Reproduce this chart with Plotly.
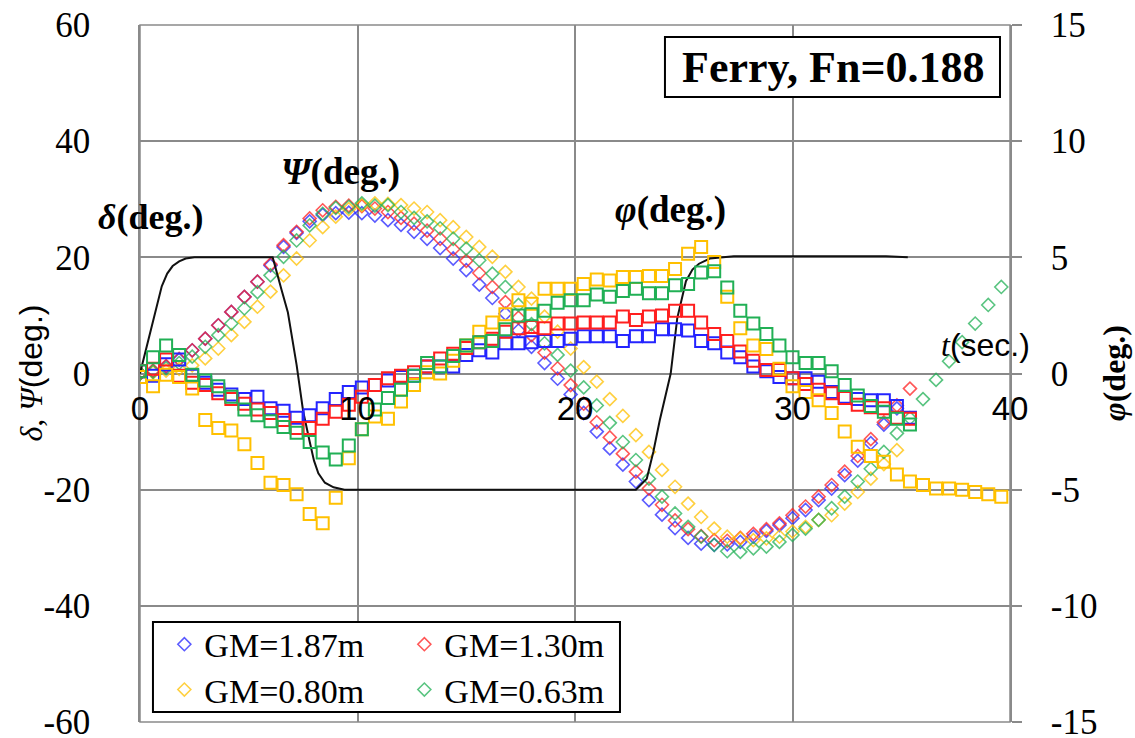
import plotly.graph_objects as go

# ---------------- data ----------------
T = [0.0, 0.6, 1.2, 1.8, 2.4, 3.0, 3.6, 4.2, 4.8, 5.4,
     6.0, 6.6, 7.2, 7.8, 8.4, 9.0, 9.6, 10.2, 10.8, 11.4,
     12.0, 12.6, 13.2, 13.8, 14.4, 15.0, 15.6, 16.2, 16.8, 17.4,
     18.0, 18.6, 19.2, 19.8, 20.4, 21.0, 21.6, 22.2, 22.8, 23.4,
     24.0, 24.6, 25.2, 25.8, 26.4, 27.0, 27.6, 28.2, 28.8, 29.4,
     30.0, 30.6, 31.2, 31.8, 32.4, 33.0, 33.6, 34.2, 34.8, 35.4,
     36.0, 36.6, 37.2, 37.8, 38.4, 39.0, 39.6]

LABELS = ["GM=1.87m", "GM=1.30m", "GM=0.80m", "GM=0.63m"]
COLORS = ["#2424ff", "#ff1f1f", "#ffc000", "#21b055"]

# yaw angle Psi (deg) - diamonds, left axis
PSI_187 = [0, 0.4, 1.2, 2.4, 4.0, 6.0, 8.3, 10.6, 13.2, 15.8,
           18.6, 21.8, 24.2, 26.2, 27.3, 27.6, 27.7, 27.6, 27.2, 26.4,
           25.6, 24.4, 23.2, 21.6, 19.8, 17.8, 15.3, 13.0, 10.3, 7.4,
           4.6, 1.8, -0.9, -3.6, -6.8, -10.0, -12.9, -15.7, -18.6, -21.8,
           -24.3, -26.6, -28.3, -29.3, -29.5, -29.4, -29.0, -28.1, -27.1, -26.1,
           -24.9, -23.5, -21.8, -19.8, -17.5, -15.0, -12.0, -8.8, -6.0]
PSI_130 = [0, 0.5, 1.3, 2.5, 4.0, 6.0, 8.3, 10.6, 13.2, 15.8,
           18.8, 22.1, 24.4, 26.7, 28.1, 28.7, 28.9, 28.8, 28.4, 27.8,
           26.8, 25.8, 24.6, 23.2, 21.4, 19.4, 17.3, 14.9, 12.3, 9.6,
           6.6, 3.6, 0.9, -2.0, -5.2, -8.4, -11.0, -13.8, -16.9, -19.8,
           -22.6, -25.3, -26.8, -28.0, -28.7, -28.8, -28.3, -27.6, -26.8, -25.8,
           -24.4, -22.9, -21.2, -19.2, -16.9, -14.2, -11.3, -8.4, -5.5, -2.6]
PSI_080 = [0, 0.2, 0.5, 0.8, 1.4, 2.6, 4.3, 6.6, 8.9, 11.5,
           14.1, 16.9, 19.8, 22.9, 25.2, 27.0, 28.3, 29.0, 29.3, 29.2,
           29.0, 28.4, 27.8, 26.4, 25.2, 23.5, 21.8, 20.1, 17.5, 14.9,
           12.9, 9.8, 7.2, 4.3, 1.1, -1.4, -4.4, -7.3, -10.6, -13.5,
           -16.6, -19.5, -22.4, -24.7, -26.7, -28.1, -28.4, -28.7, -28.4, -28.1,
           -27.2, -26.4, -25.2, -24.4, -22.4, -20.4, -18.1, -15.6, -13.2]
PSI_063 = [0, 0.3, 0.9, 1.8, 2.9, 4.6, 6.6, 8.6, 11.2, 14.0,
           16.9, 20.1, 22.9, 25.5, 27.5, 28.5, 28.7, 29.3, 28.9, 29.0,
           27.8, 26.8, 26.2, 25.0, 23.2, 21.5, 19.5, 17.2, 14.9, 11.8,
           8.5, 5.2, 3.2, 0.5, -2.4, -5.5, -8.5, -11.8, -14.9, -18.1,
           -21.2, -24.1, -26.4, -28.1, -29.5, -30.6, -30.7, -30.1, -29.8, -29.0,
           -27.8, -26.7, -25.2, -23.2, -21.2, -18.6, -16.4, -13.5, -10.3, -7.7,
           -4.4, -1.1, 2.1, 5.4, 8.6, 11.8, 14.9]

# roll angle phi (deg) - squares, right axis
PHI_187 = [0.1, -0.1, 0.4, 0.6, -0.1, -0.4, -0.7, -0.9, -1.1, -1.0,
           -1.5, -1.6, -1.9, -1.8, -1.5, -1.1, -0.8, -0.6, -0.5, -0.3,
           -0.15, -0.1, 0.3, 0.3, 0.3, 0.8, 1.0, 0.9, 1.3, 1.3,
           1.35, 1.4, 1.4, 1.5, 1.6, 1.6, 1.6, 1.4, 1.6, 1.6,
           1.9, 1.9, 1.85, 1.4, 1.3, 0.9, 0.7, 0.3, 0.1, -0.15,
           -0.2, -0.2, -0.35, -0.8, -1.0, -1.1, -1.15, -1.15, -1.4, -1.9]
PHI_130 = [0.1, 0.2, 0.6, -0.1, -0.4, -0.5, -0.85, -1.1, -1.3, -1.55,
           -1.7, -2.0, -2.35, -2.35, -1.95, -1.65, -1.35, -1.0, -0.5, -0.2,
           -0.1, 0.05, 0.3, 0.65, 0.85, 1.1, 1.35, 1.5, 1.8, 1.95,
           2.0, 1.95, 2.15, 2.15, 2.2, 2.2, 2.2, 2.45, 2.3, 2.45,
           2.5, 2.7, 2.7, 2.2, 1.7, 1.4, 0.95, 0.55, 0.15, 0.15,
           -0.2, -0.45, -0.7, -0.85, -1.05, -1.35, -1.45, -1.5, -1.9, -1.95]
PHI_080 = [-0.15, -0.55, -0.05, -0.15, -0.65, -2.0, -2.35, -2.45, -3.05, -3.85,
           -4.7, -4.8, -5.2, -6.05, -6.45, -5.35, -3.65, -2.4, -1.85, -1.95,
           -1.2, -0.5, 0.05, 0.0, 0.55, 1.2, 1.8, 2.2, 2.55, 3.15,
           3.0, 3.65, 3.65, 3.65, 3.85, 4.05, 4.0, 4.15, 4.15, 4.2,
           4.2, 4.5, 5.15, 5.45, 4.8, 3.3, 1.95, 1.2, 1.05, 0.2,
           -0.55, -0.8, -1.15, -1.7, -2.5, -3.15, -3.55, -3.8, -4.35, -4.65,
           -4.8, -4.95, -4.95, -5.0, -5.1, -5.2, -5.3]
PHI_063 = [0.1, 0.7, 1.2, 0.8, -0.05, -0.3, -0.55, -1.0, -1.55, -1.8,
           -2.05, -2.3, -2.55, -2.95, -3.4, -3.7, -3.1, -2.4, -1.55, -1.05,
           -0.7, -0.1, 0.45, 0.3, 0.75, 1.2, 1.35, 1.4, 1.9, 2.5,
           2.55, 2.7, 3.05, 3.15, 3.15, 3.4, 3.3, 3.55, 3.65, 3.45,
           3.45, 3.8, 3.85, 4.35, 4.4, 3.7, 2.7, 2.15, 1.7, 1.2,
           0.7, 0.45, 0.45, 0.1, -0.5, -0.95, -1.4, -1.65, -1.95, -2.2]

# rudder angle delta (deg) - black line, left axis
T_RUD = [0, 0.25, 0.5, 0.75, 1.0, 1.25, 1.5, 1.8, 2.1, 2.5, 6.1, 6.5, 6.8, 7.2,
         7.5, 7.8, 8.0, 8.2, 8.5, 8.9, 9.4, 22.8, 23.3, 23.6, 23.9, 24.4, 24.7,
         25.1, 25.4, 25.7, 26.2, 27.3, 34.3, 35.3]
DELTA = [0, 3.8, 7.5, 11.6, 15.0, 17.2, 18.5, 19.3, 19.8, 20, 20, 14.5, 10.5,
         1.5, -6.5, -11.7, -15, -17.2, -18.8, -19.6, -20, -20, -18.1, -13.5,
         -8.0, 0, 9.5, 15.9, 17.9, 18.9, 19.8, 20.2, 20.2, 20]

X_TICKS = [0, 10, 20, 30, 40]
X_TICK_TEXT = ["0", "10", "20", "30", "40"]
Y_TICKS = [-60, -40, -20, 0, 20, 40, 60]
Y_TICK_TEXT = ["-60", "-40", "-20", "0", "20", "40", "60"]
Y2_TICKS = [-15, -10, -5, 0, 5, 10, 15]
Y2_TICK_TEXT = ["-15", "-10", "-5", "0", "5", "10", "15"]

PSI = [PSI_187, PSI_130, PSI_080, PSI_063]
PHI = [PHI_187, PHI_130, PHI_080, PHI_063]

SERIF = "Liberation Serif"
SANS = "Liberation Sans"
GRID = "#8a8a8a"

fig = go.Figure()

legend_of = ["legend", "legend", "legend2", "legend2"]
for i in range(4):
    fig.add_trace(go.Scatter(
        x=T[:len(PSI[i])], y=PSI[i], mode="markers", name=LABELS[i],
        marker=dict(symbol="diamond-open", size=10, color=COLORS[i],
                    line=dict(width=1.6, color=COLORS[i]), opacity=0.75),
        legend=legend_of[i], yaxis="y"))
for i in range(4):
    fig.add_trace(go.Scatter(
        x=T[:len(PHI[i])], y=PHI[i], mode="markers", name=LABELS[i],
        marker=dict(symbol="square-open", size=12, color=COLORS[i],
                    line=dict(width=2, color=COLORS[i])),
        showlegend=False, yaxis="y2"))

fig.add_trace(go.Scatter(x=T_RUD, y=DELTA, mode="lines",
                         line=dict(color="#111111", width=2),
                         showlegend=False, yaxis="y"))

fig.update_layout(
    width=1135, height=738,
    margin=dict(l=140, r=125, t=25, b=16, autoexpand=False),
    paper_bgcolor="white", plot_bgcolor="white",
    font=dict(family=SERIF, color="black"),
    xaxis=dict(range=[0, 40], tickvals=X_TICKS, ticktext=X_TICK_TEXT,
               showgrid=True, gridcolor=GRID,
               gridwidth=1.5, zeroline=False, showline=False, ticks="",
               anchor="free", position=0.5, ticklabelstandoff=12,
               ticklabeloverflow="allow",
               tickfont=dict(family=SANS, size=33), automargin=False),
    yaxis=dict(range=[-60, 60], tickvals=Y_TICKS, ticktext=Y_TICK_TEXT,
               showgrid=True, gridcolor=GRID,
               gridwidth=1.5, zeroline=False, showline=True, linecolor=GRID,
               linewidth=1.5, ticks="", ticklabelstandoff=41,
               ticklabeloverflow="allow",
               tickfont=dict(family=SERIF, size=35), automargin=False),
    yaxis2=dict(range=[-15, 15], tickvals=Y2_TICKS, ticktext=Y2_TICK_TEXT,
                overlaying="y", side="right",
                showgrid=False, zeroline=False, showline=True, linecolor=GRID,
                linewidth=1.5, ticks="outside", ticklen=10, tickcolor=GRID,
                tickwidth=1.5, ticklabelstandoff=22, ticklabeloverflow="allow",
                tickfont=dict(family=SERIF, size=35), automargin=False),
    legend=dict(orientation="h", x=0.028, y=0.111, xanchor="left", yanchor="middle",
                entrywidth=195, entrywidthmode="pixels", bgcolor="rgba(0,0,0,0)",
                font=dict(family=SERIF, size=34)),
    legend2=dict(orientation="h", x=0.028, y=0.046, xanchor="left", yanchor="middle",
                 entrywidth=195, entrywidthmode="pixels", bgcolor="rgba(0,0,0,0)",
                 font=dict(family=SERIF, size=34)),
    showlegend=True,
)

# frame, legend box and title box
fig.add_shape(type="rect", xref="paper", yref="paper", x0=0, x1=1, y0=0, y1=1,
              line=dict(color=GRID, width=1.5), layer="below")
fig.add_shape(type="rect", xref="paper", yref="paper", x0=0.0149, x1=0.5517,
              y0=0.0143, y1=0.1435, line=dict(color="black", width=2),
              fillcolor="white", layer="above")
fig.add_shape(type="rect", xref="paper", yref="paper", x0=0.6034, x1=0.9885,
              y0=0.8967, y1=0.9828, line=dict(color="black", width=2),
              fillcolor="white", layer="above")

ann = [
    dict(text="<b>Ferry, Fn=0.188</b>", x=0.796, y=0.9397, size=44, family=SERIF, angle=0),
    dict(text="<b><i>δ</i>(deg.)</b>", x=0.0115, y=0.7245, size=36, family=SERIF, angle=0),
    dict(text="<b><i>Ψ</i>(deg.)</b>", x=0.231, y=0.789, size=37, family=SERIF, angle=0),
    dict(text="<b><i>φ</i>(deg.)</b>", x=0.610, y=0.7346, size=37, family=SERIF, angle=0),
    dict(text="<i>t</i><span style='font-family:Liberation Sans'>(sec.)</span>",
         x=0.972, y=0.541, size=32, family=SERIF, angle=0),
    dict(text="<i>δ</i>, <i>Ψ</i><span style='font-family:Liberation Sans'>(deg.)</span>",
         x=-0.1264, y=0.5, size=32, family=SERIF, angle=-90),
    dict(text="<b><i>φ</i>(deg.)</b>", x=1.119, y=0.5, size=32, family=SERIF, angle=-90),
]
for a in ann:
    fig.add_annotation(text=a["text"], x=a["x"], y=a["y"], xref="paper", yref="paper",
                       xanchor="center", yanchor="middle", showarrow=False,
                       textangle=a["angle"], font=dict(family=a["family"], size=a["size"],
                                                       color="black"))

fig.write_html("out.html")
